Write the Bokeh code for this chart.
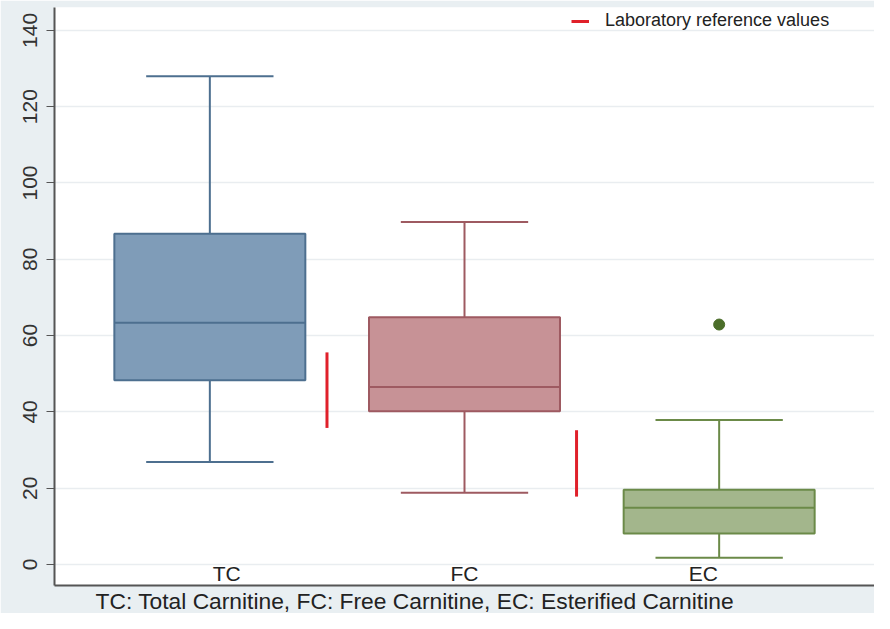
from bokeh.plotting import figure
from bokeh.models import (ColumnDataSource, Range1d, FixedTicker, Legend, LegendItem, Title)
from bokeh.core.properties import value
from bokeh.embed import file_html
from bokeh.resources import INLINE

# ---- data ----
categories = ["TC", "FC", "EC"]
lower_whisker = [26.9, 18.8, 1.8]
q1 = [48.3, 40.2, 8.1]
median = [63.4, 46.5, 14.9]
q3 = [86.7, 64.8, 19.6]
upper_whisker = [128.0, 89.8, 37.9]
outlier_cat = ["EC"]
outlier_val = [62.9]
ref_cats = ["TC", "FC"]
ref_low = [35.8, 17.8]
ref_high = [55.6, 35.2]
y_ticks = [0, 20, 40, 60, 80, 100, 120, 140]
footer = "TC: Total Carnitine, FC: Free Carnitine, EC: Esterified Carnitine"
legend_text = "Laboratory reference values"

# ---- styles ----
line_colors = ["#4d6f8f", "#9e5a61", "#6b8a48"]
fill_colors = ["#7f9cb8", "#c79296", "#a3b68c"]
outlier_color = "#4b6e2a"
ref_color = "#e0202a"
FONT = "Liberation Sans"
box_half = 0.375
cap_half = 0.25
ref_offsets = [0.46, 0.44]
label_offsets = [0.066, 0.0, -0.062]

pos = {c: i + 1 for i, c in enumerate(categories)}
xs = [pos[c] for c in categories]

p = figure(width=874, height=613, output_backend="svg", toolbar_location=None,
           x_range=Range1d(0.39, 3.61), y_range=Range1d(-5.5, 146),
           min_border_left=54, min_border_right=0, min_border_top=7, min_border_bottom=0)
p.background_fill_color = "white"
p.border_fill_color = "#e9eff2"
p.outline_line_color = None

src = ColumnDataSource(dict(
    x=xs, left=[x - box_half for x in xs], right=[x + box_half for x in xs],
    cl=[x - cap_half for x in xs], cr=[x + cap_half for x in xs],
    lo=lower_whisker, q1=q1, med=median, q3=q3, hi=upper_whisker,
    lc=line_colors, fc=fill_colors,
))

# whiskers
p.segment(x0="x", y0="q3", x1="x", y1="hi", source=src, line_color="lc", line_width=2)
p.segment(x0="x", y0="lo", x1="x", y1="q1", source=src, line_color="lc", line_width=2)
# caps
p.segment(x0="cl", y0="hi", x1="cr", y1="hi", source=src, line_color="lc", line_width=2)
p.segment(x0="cl", y0="lo", x1="cr", y1="lo", source=src, line_color="lc", line_width=2)
# boxes
p.quad(left="left", right="right", bottom="q1", top="q3", source=src,
       fill_color="fc", line_color="lc", line_width=2)
p.segment(x0="left", y0="med", x1="right", y1="med", source=src, line_color="lc", line_width=2)

# outliers
p.scatter(x=[pos[c] for c in outlier_cat], y=outlier_val, size=11,
          color=outlier_color, line_color=outlier_color)

# reference ranges
ref_x = [pos[c] + o for c, o in zip(ref_cats, ref_offsets)]
ref_r = p.segment(x0=ref_x, y0=ref_low, x1=ref_x, y1=ref_high,
                  line_color=ref_color, line_width=3)

# category labels inside plot
p.text(x=[x + o for x, o in zip(xs, label_offsets)], y=[-2.3] * 3, text=categories,
       text_font=value(FONT), text_font_size="21px", text_color="#222222",
       text_align="center", text_baseline="middle")

# axes
p.xaxis.ticker = FixedTicker(ticks=[])
p.xaxis.major_tick_out = 0
p.xaxis.major_tick_in = 0
p.xaxis.minor_tick_out = 0
p.xaxis.major_label_standoff = 0
p.xaxis.axis_line_color = "#555555"
p.xaxis.axis_line_width = 2

p.yaxis.ticker = FixedTicker(ticks=y_ticks)
p.yaxis.major_label_orientation = "vertical"
p.yaxis.major_label_text_font = FONT
p.yaxis.major_label_text_font_size = "21px"
p.yaxis.major_label_text_color = "#333333"
p.yaxis.major_tick_out = 8
p.yaxis.major_tick_in = 0
p.yaxis.minor_tick_out = 0
p.yaxis.major_tick_line_color = "#555555"
p.yaxis.axis_line_color = "#555555"
p.yaxis.axis_line_width = 2
p.yaxis.major_label_standoff = 9

p.xgrid.grid_line_color = None
p.ygrid.ticker = FixedTicker(ticks=y_ticks)
p.ygrid.grid_line_color = "#e9edf0"
p.ygrid.grid_line_width = 1.5

legend = Legend(items=[LegendItem(label=legend_text, renderers=[ref_r])],
                location=(517, 554), glyph_width=18, label_standoff=16,
                padding=0, spacing=0, margin=0,
                border_line_color=None, background_fill_alpha=0,
                label_text_font=FONT, label_text_font_size="18px",
                label_text_color="#222222")
p.add_layout(legend)

p.add_layout(Title(text=footer, align="left", offset=41, text_font=FONT,
                   text_font_size="22.8px", text_font_style="normal",
                   text_color="#222222", standoff=0), "below")

open("out.html", "w").write(file_html(p, INLINE))
